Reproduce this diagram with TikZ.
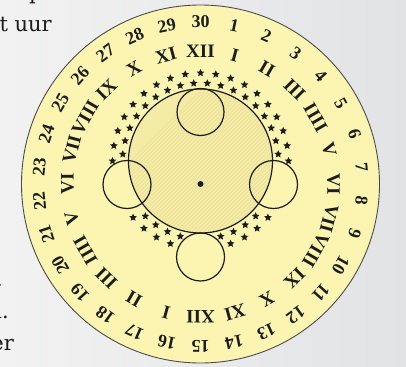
\documentclass[tikz,border=0pt]{standalone}
\usepackage{fontspec}
\setmainfont{Liberation Serif}
\newfontfamily\txtfont{DejaVu Serif}
\usetikzlibrary{shapes.geometric}
\definecolor{bgL}{RGB}{242,242,242}
\definecolor{bgR}{RGB}{226,227,229}
\definecolor{dial}{RGB}{252,245,178}
\definecolor{moonfill}{RGB}{244,235,165}
\definecolor{hatch}{RGB}{232,222,150}
\definecolor{ink}{RGB}{28,28,28}
\tikzset{
  dialnum/.style={font=\fontsize{18}{18}\selectfont\bfseries, text=ink, inner sep=0pt},
  roman/.style={font=\fontsize{19}{19}\selectfont\bfseries, text=ink, inner sep=0pt},
  stardot/.style={star, star points=5, star point ratio=2.1, fill=ink, draw=none, minimum size=8pt, inner sep=0pt},
  ringline/.style={draw=ink, line width=1.2pt},
  hatchline/.style={draw=hatch, line width=0.5pt},
  pagetext/.style={font=\txtfont\fontsize{21}{21}\selectfont, text=ink, inner sep=0pt},
}
\begin{document}
\begin{tikzpicture}[x=1pt,y=1pt]
\useasboundingbox (0,-366) rectangle (406,0);
\shade[left color=bgL, right color=bgR] (0,-366) rectangle (406,0);
% page text fragments
\node[pagetext, anchor=base west] (p1) at (29,0) {p};
\node[pagetext, anchor=base east] (p2) at (52,-32) {t uur};
\node[pagetext, anchor=base east] (p3) at (3,-286) {.};
\node[pagetext, anchor=base east] (p4) at (9,-318) {l.};
\node[pagetext, anchor=base east] (p5) at (14,-350) {er};
% dial
\coordinate (C) at (200.5,-184);
\coordinate (M) at (200.5,-161);
\fill[dial] (C) circle[radius=179];
\draw[draw=black!70, line width=0.9pt] (C) circle[radius=179];
\fill[moonfill] (M) circle[radius=72];
\begin{scope}
  \clip (M) circle[radius=72];
  \foreach \t in {-150,-146,...,150}
    \draw[hatchline] ([shift={(\t,-80)}]M) -- ++(160,160);
\end{scope}
% day numbers
\foreach \k in {1,...,30} {
  \pgfmathsetmacro\ang{90-12*\k}
  \pgfmathsetmacro\rot{-12*\k}
  \node[dialnum, rotate=\rot] (d\k) at ([shift={(\ang:162)}]C) {\k};
}
% hours
\foreach \h [count=\j from 0] in {XII,I,II,III,IIII,V,VI,VII,VIII,IX,X,XI,XII,I,II,III,IIII,V,VI,VII,VIII,IX,X,XI} {
  \pgfmathsetmacro\ang{90-15*\j}
  \pgfmathsetmacro\rot{-15*\j}
  \node[roman, rotate=\rot] (h\j) at ([shift={(\ang:133)}]C) {\h};
}
% stars
\foreach \a [count=\i] in {0,10,...,180,-40,-50,-60,-70,-110,-120,-130,-140}
  \node[stardot] (sa\i) at ([shift={(\a:88)}]M) {};
\foreach \a [count=\i] in {5,15,...,175,-45,-55,-65,-75,-105,-115,-125,-135}
  \node[stardot] (sb\i) at ([shift={(\a:78)}]M) {};
% circles
\draw[ringline] (M) circle[radius=72];
\draw[ringline] (200.5,-112) circle[radius=23.5];
\draw[ringline] (200.5,-257) circle[radius=24];
\draw[ringline] (127,-184.5) circle[radius=24];
\draw[ringline] (273.5,-184.5) circle[radius=24];
\fill[ink] (C) circle[radius=3];
\end{tikzpicture}
\end{document}
